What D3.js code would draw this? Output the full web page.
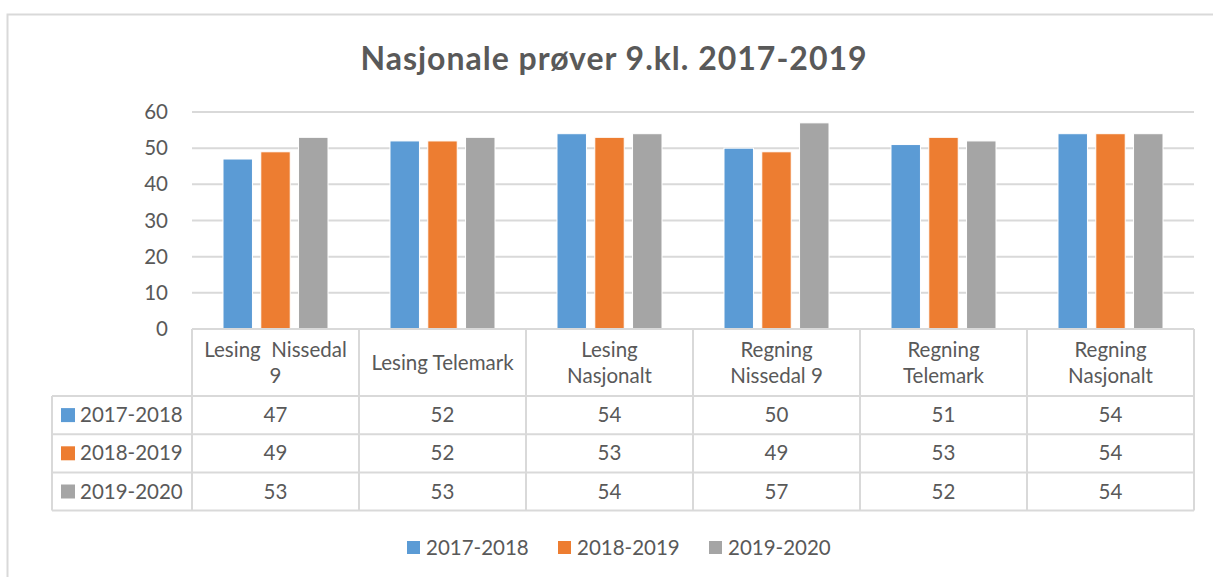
<!DOCTYPE html>
<html>
<head>
<meta charset="utf-8">
<script src="https://cdn.jsdelivr.net/npm/d3@7"></script>
<style>
  body { margin: 0; background: #fff; }
  svg { display: block; font-family: Lato, "Open Sans", sans-serif; }
</style>
</head>
<body>
<div id="chart"></div>
<script>
// data
let categories = ['Lesing  Nissedal 9', 'Lesing Telemark', 'Lesing Nasjonalt', 'Regning Nissedal 9', 'Regning Telemark', 'Regning Nasjonalt'];
let headerLines = [['Lesing  Nissedal', '9'], ['Lesing Telemark'], ['Lesing', 'Nasjonalt'], ['Regning', 'Nissedal 9'], ['Regning', 'Telemark'], ['Regning', 'Nasjonalt']];
let seriesNames = ['2017-2018', '2018-2019', '2019-2020'];
let v2017 = [47, 52, 54, 50, 51, 54];
let v2018 = [49, 52, 53, 49, 53, 54];
let v2019 = [53, 53, 54, 57, 52, 54];
let yTicks = [0, 10, 20, 30, 40, 50, 60];
let colors = ['#5B9BD5', '#ED7D31', '#A5A5A5'];
let title = 'Nasjonale prøver 9.kl. 2017-2019';

let seriesVals = [v2017, v2018, v2019];

let W = 1213, H = 577;
let textCol = '#595959';
let lineCol = '#d9d9d9';
let fs = 20.5;

let svg = d3.select('#chart').append('svg')
  .attr('width', W).attr('height', H);

// outer frame
svg.append('rect')
  .attr('x', 7.5).attr('y', 14.5)
  .attr('width', W + 20).attr('height', H + 20)
  .attr('fill', 'none').attr('stroke', lineCol).attr('stroke-width', 2);

svg.append('text')
  .attr('x', 614).attr('y', 70)
  .attr('text-anchor', 'middle')
  .attr('font-size', 32).attr('font-weight', 'bold')
  .attr('letter-spacing', 1)
  .attr('fill', textCol)
  .text(title);

let plotL = 192, plotR = 1194, plotT = 112, plotB = 329;

let x = d3.scaleBand().domain(categories).range([plotL, plotR]);
let y = d3.scaleLinear().domain([0, 60]).range([plotB, plotT]);
let x1 = d3.scaleBand().domain(seriesNames).range([31, 136]).paddingInner(0.22);

// gridlines
svg.append('g').selectAll('line').data(yTicks.filter(d => d > 0)).join('line')
  .attr('x1', plotL).attr('x2', plotR)
  .attr('y1', d => y(d)).attr('y2', d => y(d))
  .attr('stroke', lineCol).attr('stroke-width', 2);

// y axis labels
let yAxis = svg.append('g')
  .attr('transform', 'translate(' + (plotL - 24) + ',0)')
  .call(d3.axisLeft(y).tickValues(yTicks).tickSize(0).tickPadding(0));
yAxis.select('.domain').remove();
yAxis.selectAll('text')
  .attr('font-size', fs).attr('fill', textCol)
  .style('font-family', 'Lato, "Open Sans", sans-serif');

// bars
seriesNames.forEach((s, si) => {
  svg.append('g').selectAll('rect').data(seriesVals[si]).join('rect')
    .attr('x', (d, i) => x(categories[i]) + x1(s))
    .attr('y', d => y(d))
    .attr('width', x1.bandwidth())
    .attr('height', d => y(0) - y(d))
    .attr('fill', colors[si])
    .attr('stroke', '#fff').attr('stroke-width', 1);
});

// data table
let tableL = 52;
let headB = 396, rowH = 38.2;
let tbl = svg.append('g');
let bw = x.bandwidth();

// horizontal lines
tbl.append('line').attr('x1', plotL).attr('x2', plotR).attr('y1', plotB).attr('y2', plotB)
  .attr('stroke', lineCol).attr('stroke-width', 2);
for (let r = 0; r <= seriesNames.length; r++) {
  tbl.append('line').attr('x1', tableL).attr('x2', plotR)
    .attr('y1', headB + r * rowH).attr('y2', headB + r * rowH)
    .attr('stroke', lineCol).attr('stroke-width', 2);
}
// vertical lines
let tableBottom = headB + seriesNames.length * rowH;
tbl.append('line').attr('x1', tableL).attr('x2', tableL).attr('y1', headB).attr('y2', tableBottom)
  .attr('stroke', lineCol).attr('stroke-width', 2);
categories.concat(['end']).forEach((c, i) => {
  let xx = plotL + i * bw;
  tbl.append('line').attr('x1', xx).attr('x2', xx).attr('y1', plotB).attr('y2', tableBottom)
    .attr('stroke', lineCol).attr('stroke-width', 2);
});

// header text
categories.forEach((c, i) => {
  let lines = headerLines[i];
  let cx = x(c) + bw / 2;
  let midY = (plotB + headB) / 2;
  lines.forEach((ln, li) => {
    tbl.append('text')
      .attr('x', cx)
      .attr('y', midY + (li - (lines.length - 1) / 2) * 26)
      .attr('dy', '0.35em')
      .attr('text-anchor', 'middle')
      .attr('font-size', fs).attr('fill', textCol)
      .style('white-space', 'pre')
      .text(ln);
  });
});

// rows
seriesNames.forEach((s, si) => {
  let cy = headB + si * rowH + rowH / 2;
  tbl.append('rect').attr('x', 61).attr('y', cy - 7).attr('width', 14).attr('height', 14)
    .attr('fill', colors[si]);
  tbl.append('text').attr('x', 80).attr('y', cy).attr('dy', '0.35em')
    .attr('font-size', fs).attr('fill', textCol).text(s);
  tbl.selectAll(null).data(seriesVals[si]).join('text')
    .attr('x', (d, i) => x(categories[i]) + bw / 2)
    .attr('y', cy).attr('dy', '0.35em')
    .attr('text-anchor', 'middle')
    .attr('font-size', fs).attr('fill', textCol)
    .text(d => d);
});

// legend
let legX = [407, 558, 709];
let legend = svg.append('g');
seriesNames.forEach((s, si) => {
  legend.append('rect').attr('x', legX[si]).attr('y', 541).attr('width', 13).attr('height', 13)
    .attr('fill', colors[si]);
  legend.append('text').attr('x', legX[si] + 19).attr('y', 548).attr('dy', '0.35em')
    .attr('font-size', fs).attr('fill', textCol).text(s);
});
</script>
</body>
</html>
